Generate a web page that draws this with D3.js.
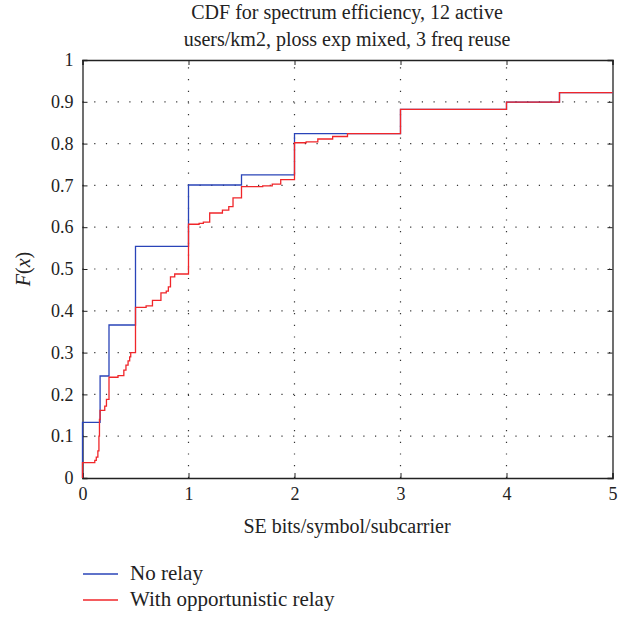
<!DOCTYPE html>
<html>
<head>
<meta charset="utf-8">
<script src="https://cdn.jsdelivr.net/npm/d3@7"></script>
<style>
  body { margin: 0; background: #fff; }
  svg text { font-family: "Liberation Serif", "DejaVu Serif", serif; fill: #222; }
</style>
</head>
<body>
<svg id="chart" width="633" height="617"></svg>
<script>
// step data (x = SE, y = F(x))
const noRelayX = [0, 0, 0.166, 0.25, 0.5, 1.0, 1.5, 2.0, 3.0, 4.0, 4.5, 5.0]
const noRelayY = [0, 0.133, 0.244, 0.366, 0.554, 0.701, 0.725, 0.824, 0.882, 0.899, 0.922, 0.922]

const relayX = [0, 0, 0.116, 0.13, 0.145, 0.155, 0.16, 0.166, 0.21, 0.226, 0.25, 0.335, 0.39, 0.41, 0.43, 0.445, 0.455, 0.5, 0.6, 0.66, 0.74, 0.79, 0.81, 0.83, 0.87, 1.0, 1.1, 1.14, 1.2, 1.32, 1.38, 1.42, 1.5, 1.7, 1.79, 1.87, 2.0, 2.11, 2.22, 2.36, 2.5, 3.0, 4.0, 4.5, 5.0]
const relayY = [0, 0.037, 0.042, 0.05, 0.065, 0.10, 0.14, 0.162, 0.172, 0.188, 0.241, 0.245, 0.258, 0.27, 0.28, 0.29, 0.30, 0.408, 0.412, 0.425, 0.443, 0.447, 0.457, 0.481, 0.488, 0.607, 0.609, 0.612, 0.634, 0.641, 0.649, 0.670, 0.697, 0.699, 0.703, 0.714, 0.802, 0.804, 0.811, 0.817, 0.824, 0.882, 0.899, 0.922, 0.922]

const xTicks = [0, 1, 2, 3, 4, 5]
const yTicks = [0, 0.1, 0.2, 0.3, 0.4, 0.5, 0.6, 0.7, 0.8, 0.9, 1]
const titleLines = ["CDF for spectrum efficiency, 12 active", "users/km2, ploss exp mixed, 3 freq reuse"]
const seriesNames = ["No relay", "With opportunistic relay"]
const seriesColors = ["#2a44b8", "#f0262a"]

const svg = d3.select("#chart")
const plotLeft = 82.5, plotRight = 612.5, plotTop = 60, plotBottom = 478

const x = d3.scaleLinear().domain([0, 5]).range([plotLeft, plotRight])
const y = d3.scaleLinear().domain([0, 1]).range([plotBottom, plotTop])

// dotted grid
const grid = svg.append("g").attr("stroke", "#333").attr("stroke-width", 1.2)
  .attr("stroke-dasharray", "1.2,10.5")
grid.selectAll(".gx").data(xTicks.slice(1, -1)).join("line")
  .attr("x1", d => x(d)).attr("x2", d => x(d))
  .attr("y1", plotBottom).attr("y2", plotTop)
grid.selectAll(".gy").data(yTicks.slice(1, -1)).join("line")
  .attr("x1", plotLeft).attr("x2", plotRight)
  .attr("y1", d => y(d)).attr("y2", d => y(d))

// axes with inward ticks
const tickLen = 5
svg.append("g").attr("transform", `translate(0,${plotBottom})`)
  .call(d3.axisBottom(x).tickValues(xTicks).tickSize(-tickLen).tickPadding(9).tickFormat(d3.format("d")))
svg.append("g").attr("transform", `translate(0,${plotTop})`)
  .call(d3.axisTop(x).tickValues(xTicks).tickSize(-tickLen).tickFormat(""))
svg.append("g").attr("transform", `translate(${plotLeft},0)`)
  .call(d3.axisLeft(y).tickValues(yTicks).tickSize(-tickLen).tickPadding(9).tickFormat(d => d3.format("~g")(d)))
svg.append("g").attr("transform", `translate(${plotRight},0)`)
  .call(d3.axisRight(y).tickValues(yTicks).tickSize(-tickLen).tickFormat(""))

svg.selectAll(".domain").attr("stroke", "#222").attr("stroke-width", 1.3)
svg.selectAll(".tick line").attr("stroke", "#222")
svg.selectAll(".tick text").style("font-size", "18px").attr("fill", "#222")

// step lines
const line = d3.line().curve(d3.curveStepAfter)
const series = [[noRelayX, noRelayY], [relayX, relayY]]
series.forEach(([xs, ys], i) => {
  svg.append("path")
    .attr("d", line(xs.map((v, j) => [x(v), y(ys[j])])))
    .attr("fill", "none")
    .attr("stroke", seriesColors[i])
    .attr("stroke-width", 1.3)
})

// title
svg.append("g").selectAll("text").data(titleLines).join("text")
  .attr("x", 347).attr("y", (d, i) => 19 + i * 27)
  .attr("text-anchor", "middle").style("font-size", "20px")
  .text(d => d)

// axis labels
svg.append("text").attr("x", 347).attr("y", 533)
  .attr("text-anchor", "middle").style("font-size", "20px")
  .text("SE bits/symbol/subcarrier")
const yl = svg.append("text")
  .attr("transform", "translate(30,269) rotate(-90)")
  .attr("text-anchor", "middle").style("font-size", "20px")
yl.append("tspan").style("font-style", "italic").text("F")
yl.append("tspan").text("(")
yl.append("tspan").style("font-style", "italic").text("x")
yl.append("tspan").text(")")

// legend
const legend = svg.append("g").selectAll("g").data(seriesNames).join("g")
  .attr("transform", (d, i) => `translate(83,${574 + i * 26})`)
legend.append("line").attr("x1", 0).attr("x2", 35)
  .attr("stroke", (d, i) => seriesColors[i]).attr("stroke-width", 1.3)
legend.append("text").attr("x", 47).attr("y", 6).style("font-size", "21px")
  .text(d => d)
</script>
</body>
</html>
